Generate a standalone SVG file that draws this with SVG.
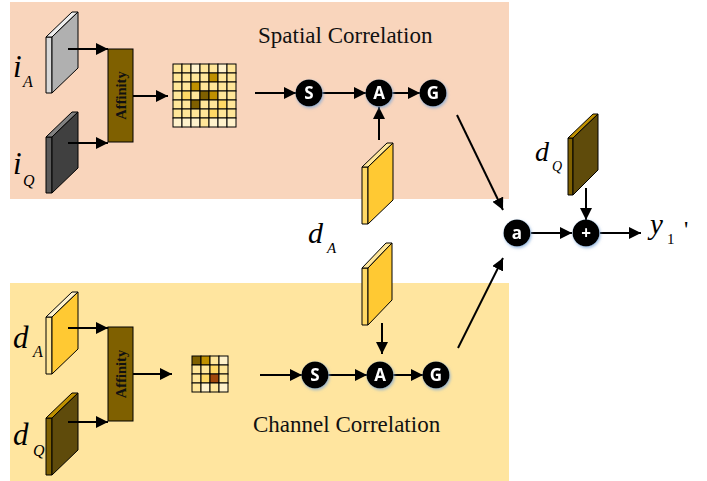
<svg xmlns="http://www.w3.org/2000/svg" width="707" height="481" viewBox="0 0 707 481">
<style>
.ln{stroke:#000;stroke-width:2;fill:none}
.pl{stroke:#000;stroke-width:1;stroke-linejoin:round}
.cell{stroke:#000;stroke-width:1}
.L{fill:#FFE699}.V{fill:#FFF2CC}.M{fill:#FFD966}.G{fill:#BF9000}.D{fill:#7F6000}.R{fill:#A0470C}
.aff{fill:#7F6000;stroke:#000;stroke-width:1}
.afft{font-family:"Liberation Serif",serif;font-weight:bold;font-size:14.5px;fill:#111}
.lab{font-family:"Liberation Serif",serif;font-style:italic;fill:#000}
.ttl{font-family:"Liberation Serif",serif;font-size:23px;fill:#111}
.op{fill:#000}
.opt{font-family:"Open Sans","DejaVu Sans",sans-serif;font-weight:bold;font-size:17px;fill:#fff;text-anchor:middle}
</style>
<defs>
<marker id="ah" markerUnits="userSpaceOnUse" markerWidth="13" markerHeight="12" refX="12" refY="6" orient="auto">
<path d="M0,0 L12,6 L0,12 z" fill="#000"/>
</marker>
<filter id="glow" x="-50%" y="-50%" width="200%" height="200%">
<feDropShadow dx="1" dy="1.5" stdDeviation="1.5" flood-color="#7FA8D8" flood-opacity="0.8"/>
</filter>
</defs>

<g id="backgrounds">
<rect x="10" y="2" width="499" height="197" fill="#F9D5BC"/>
<rect x="10" y="283" width="499" height="198" fill="#FFE59F"/>
</g>

<g id="titles">
<text class="ttl" x="258" y="43">Spatial Correlation</text>
<text class="ttl" x="253" y="432">Channel Correlation</text>
</g>

<g id="iA">
<rect class="pl" x="46" y="37" width="6" height="56" fill="#D9D9D9"/>
<polygon class="pl" points="46,37 72,12 78,12 52,37" fill="#EDEDED"/>
<polygon class="pl" points="52,37 78,12 78,68 52,93" fill="#B0B0B0"/>
<text class="lab" x="13" y="77" font-size="31">i</text>
<text class="lab" x="23" y="87" font-size="16">A</text>
</g>
<g id="iQ">
<rect class="pl" x="46" y="137" width="6" height="56" fill="#5A5A5A"/>
<polygon class="pl" points="46,137 72,112 78,112 52,137" fill="#808080"/>
<polygon class="pl" points="52,137 78,112 78,168 52,193" fill="#404040"/>
<text class="lab" x="13" y="174" font-size="31">i</text>
<text class="lab" x="23" y="186" font-size="16">Q</text>
</g>
<g id="affinity-top">
<rect class="aff" x="108" y="49" width="25" height="93"/>
<text class="afft" transform="translate(125.5,95.5) rotate(-90)" text-anchor="middle">Affinity</text>
</g>
<g id="matrix-top">
<g transform="translate(173,64)">
<rect class="cell L" x="0" y="0" width="9" height="9"/><rect class="cell L" x="9" y="0" width="9" height="9"/><rect class="cell V" x="18" y="0" width="9" height="9"/><rect class="cell L" x="27" y="0" width="9" height="9"/><rect class="cell L" x="36" y="0" width="9" height="9"/><rect class="cell V" x="45" y="0" width="9" height="9"/><rect class="cell L" x="54" y="0" width="9" height="9"/>
<rect class="cell L" x="0" y="9" width="9" height="9"/><rect class="cell L" x="9" y="9" width="9" height="9"/><rect class="cell L" x="18" y="9" width="9" height="9"/><rect class="cell L" x="27" y="9" width="9" height="9"/><rect class="cell G" x="36" y="9" width="9" height="9"/><rect class="cell L" x="45" y="9" width="9" height="9"/><rect class="cell L" x="54" y="9" width="9" height="9"/>
<rect class="cell L" x="0" y="18" width="9" height="9"/><rect class="cell L" x="9" y="18" width="9" height="9"/><rect class="cell G" x="18" y="18" width="9" height="9"/><rect class="cell L" x="27" y="18" width="9" height="9"/><rect class="cell L" x="36" y="18" width="9" height="9"/><rect class="cell L" x="45" y="18" width="9" height="9"/><rect class="cell L" x="54" y="18" width="9" height="9"/>
<rect class="cell L" x="0" y="27" width="9" height="9"/><rect class="cell M" x="9" y="27" width="9" height="9"/><rect class="cell L" x="18" y="27" width="9" height="9"/><rect class="cell D" x="27" y="27" width="9" height="9"/><rect class="cell G" x="36" y="27" width="9" height="9"/><rect class="cell L" x="45" y="27" width="9" height="9"/><rect class="cell L" x="54" y="27" width="9" height="9"/>
<rect class="cell L" x="0" y="36" width="9" height="9"/><rect class="cell L" x="9" y="36" width="9" height="9"/><rect class="cell D" x="18" y="36" width="9" height="9"/><rect class="cell L" x="27" y="36" width="9" height="9"/><rect class="cell L" x="36" y="36" width="9" height="9"/><rect class="cell M" x="45" y="36" width="9" height="9"/><rect class="cell L" x="54" y="36" width="9" height="9"/>
<rect class="cell L" x="0" y="45" width="9" height="9"/><rect class="cell L" x="9" y="45" width="9" height="9"/><rect class="cell L" x="18" y="45" width="9" height="9"/><rect class="cell L" x="27" y="45" width="9" height="9"/><rect class="cell M" x="36" y="45" width="9" height="9"/><rect class="cell L" x="45" y="45" width="9" height="9"/><rect class="cell L" x="54" y="45" width="9" height="9"/>
<rect class="cell V" x="0" y="54" width="9" height="9"/><rect class="cell V" x="9" y="54" width="9" height="9"/><rect class="cell V" x="18" y="54" width="9" height="9"/><rect class="cell L" x="27" y="54" width="9" height="9"/><rect class="cell V" x="36" y="54" width="9" height="9"/><rect class="cell V" x="45" y="54" width="9" height="9"/><rect class="cell V" x="54" y="54" width="9" height="9"/>
</g>
</g>

<g id="dA-mid-top">
<rect class="pl" x="362" y="167" width="6" height="57" fill="#FFD966"/>
<polygon class="pl" points="362,167 387,143 393,143 368,167" fill="#FFE699"/>
<polygon class="pl" points="368,167 393,143 393,200 368,224" fill="#FFC933"/>
</g>
<g id="dA-mid-label">
<text class="lab" x="308" y="243" font-size="30">d</text>
<text class="lab" x="327" y="253" font-size="15">A</text>
</g>
<g id="dA-mid-bottom">
<rect class="pl" x="362" y="268" width="6" height="57" fill="#FFD966"/>
<polygon class="pl" points="362,268 386,243 392,243 368,268" fill="#FFE699"/>
<polygon class="pl" points="368,268 392,243 392,300 368,325" fill="#FFC933"/>
</g>

<g id="dA-left">
<rect class="pl" x="46" y="317" width="6" height="57" fill="#FFE699"/>
<polygon class="pl" points="46,317 72,292 78,292 52,317" fill="#FFF2CC"/>
<polygon class="pl" points="52,317 78,292 78,349 52,374" fill="#FFC933"/>
<text class="lab" x="13" y="348" font-size="31">d</text>
<text class="lab" x="33" y="357" font-size="16">A</text>
</g>
<g id="dQ-left">
<rect class="pl" x="46" y="418" width="6" height="57" fill="#7F6000"/>
<polygon class="pl" points="46,418 72,393 78,393 52,418" fill="#BF9000"/>
<polygon class="pl" points="52,418 78,393 78,450 52,475" fill="#5F4B0B"/>
<text class="lab" x="13" y="445" font-size="31">d</text>
<text class="lab" x="33" y="456" font-size="16">Q</text>
</g>
<g id="affinity-bottom">
<rect class="aff" x="108" y="327" width="25" height="94"/>
<text class="afft" transform="translate(125.5,374) rotate(-90)" text-anchor="middle">Affinity</text>
</g>
<g id="matrix-bottom">
<g transform="translate(192,356)">
<rect class="cell D" x="0" y="0" width="9" height="9"/><rect class="cell G" x="9" y="0" width="9" height="9"/><rect class="cell L" x="18" y="0" width="9" height="9"/><rect class="cell V" x="27" y="0" width="9" height="9"/>
<rect class="cell L" x="0" y="9" width="9" height="9"/><rect class="cell L" x="9" y="9" width="9" height="9"/><rect class="cell M" x="18" y="9" width="9" height="9"/><rect class="cell L" x="27" y="9" width="9" height="9"/>
<rect class="cell L" x="0" y="18" width="9" height="9"/><rect class="cell M" x="9" y="18" width="9" height="9"/><rect class="cell R" x="18" y="18" width="9" height="9"/><rect class="cell L" x="27" y="18" width="9" height="9"/>
<rect class="cell L" x="0" y="27" width="9" height="9"/><rect class="cell V" x="9" y="27" width="9" height="9"/><rect class="cell L" x="18" y="27" width="9" height="9"/><rect class="cell V" x="27" y="27" width="9" height="9"/>
</g>
</g>

<g id="dQ-right">
<rect class="pl" x="568" y="138" width="5" height="57" fill="#7F6000"/>
<polygon class="pl" points="568,138 593,114 598,114 573,138" fill="#BF9000"/>
<polygon class="pl" points="573,138 598,114 598,170 573,195" fill="#5F4B0B"/>
<text class="lab" x="535" y="161" font-size="28">d</text>
<text class="lab" x="552" y="171" font-size="14">Q</text>
</g>

<g id="connectors">
<line class="ln" x1="68" y1="49" x2="108" y2="49" marker-end="url(#ah)"/>
<line class="ln" x1="68" y1="143" x2="108" y2="143" marker-end="url(#ah)"/>
<line class="ln" x1="133" y1="96" x2="168" y2="96" marker-end="url(#ah)"/>
<line class="ln" x1="255" y1="93" x2="296" y2="93" marker-end="url(#ah)"/>
<line class="ln" x1="322" y1="93" x2="366" y2="93" marker-end="url(#ah)"/>
<line class="ln" x1="392" y1="93" x2="420" y2="93" marker-end="url(#ah)"/>
<line class="ln" x1="379" y1="140" x2="379" y2="107" marker-end="url(#ah)"/>
<line class="ln" x1="457" y1="115" x2="503" y2="210" marker-end="url(#ah)"/>
<line class="ln" x1="68" y1="328" x2="108" y2="328" marker-end="url(#ah)"/>
<line class="ln" x1="68" y1="422" x2="108" y2="422" marker-end="url(#ah)"/>
<line class="ln" x1="133" y1="374" x2="172" y2="374" marker-end="url(#ah)"/>
<line class="ln" x1="260" y1="375" x2="302" y2="375" marker-end="url(#ah)"/>
<line class="ln" x1="328" y1="375" x2="367" y2="375" marker-end="url(#ah)"/>
<line class="ln" x1="393" y1="375" x2="423" y2="375" marker-end="url(#ah)"/>
<line class="ln" x1="382" y1="323" x2="382" y2="354" marker-end="url(#ah)"/>
<line class="ln" x1="458" y1="348" x2="503" y2="258" marker-end="url(#ah)"/>
<line class="ln" x1="531" y1="233" x2="572" y2="233" marker-end="url(#ah)"/>
<line class="ln" x1="586" y1="188" x2="586" y2="220" marker-end="url(#ah)"/>
<line class="ln" x1="600" y1="233" x2="641" y2="233" marker-end="url(#ah)"/>
</g>

<g id="S-top" filter="url(#glow)"><circle class="op" cx="309" cy="93" r="13.5"/><text class="opt" x="309" y="99">S</text></g>
<g id="A-top" filter="url(#glow)"><circle class="op" cx="379" cy="93" r="13.5"/><text class="opt" x="379" y="99">A</text></g>
<g id="G-top" filter="url(#glow)"><circle class="op" cx="433" cy="93" r="13.5"/><text class="opt" x="433" y="99">G</text></g>
<g id="S-bottom" filter="url(#glow)"><circle class="op" cx="315" cy="375" r="13.5"/><text class="opt" x="315" y="381">S</text></g>
<g id="A-bottom" filter="url(#glow)"><circle class="op" cx="380" cy="375" r="13.5"/><text class="opt" x="380" y="381">A</text></g>
<g id="G-bottom" filter="url(#glow)"><circle class="op" cx="436" cy="375" r="13.5"/><text class="opt" x="436" y="381">G</text></g>
<g id="a-node" filter="url(#glow)"><circle class="op" cx="517" cy="233" r="13.5"/><text class="opt" x="517" y="238.5">a</text></g>
<g id="plus-node" filter="url(#glow)"><circle class="op" cx="586" cy="233" r="13.5"/><text class="opt" x="586" y="239">+</text></g>

<g id="y1-label">
<text class="lab" x="650" y="234" font-size="29">y</text>
<text x="667" y="244" font-size="15" font-family="Liberation Serif,serif">1</text>
<text x="684" y="237" font-size="24" font-family="Liberation Serif,serif">'</text>
</g>
</svg>
